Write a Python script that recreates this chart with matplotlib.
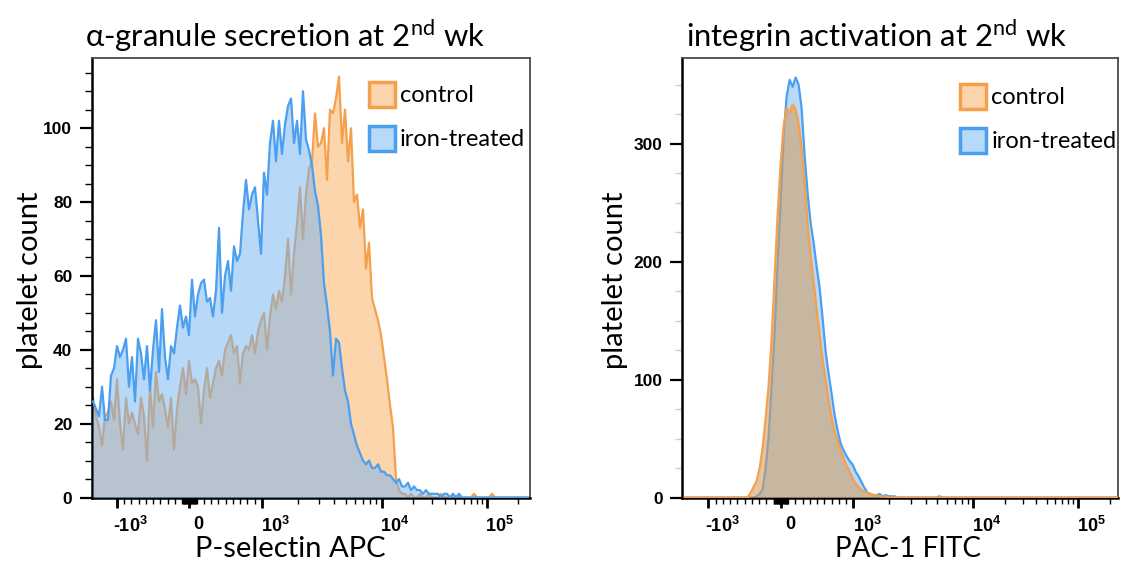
import numpy as np
import matplotlib
matplotlib.use("Agg")
import matplotlib.pyplot as plt
from matplotlib.patches import Patch
from matplotlib.transforms import ScaledTranslation

# ---------------- data (histogram counts per display channel) ----------------
N_BINS = 146
left_control = [
    27, 22, 19, 14, 22, 23, 26, 21, 32, 20,
    13, 27, 20, 23, 20, 17, 27, 22, 10, 30,
    19, 34, 26, 28, 24, 19, 27, 13, 24, 30,
    35, 28, 37, 31, 32, 30, 20, 29, 35, 27,
    31, 35, 37, 33, 40, 42, 44, 39, 41, 31,
    39, 41, 40, 44, 39, 45, 48, 50, 40, 49,
    55, 51, 56, 53, 60, 70, 55, 66, 74, 84,
    70, 82, 89, 91, 104, 95, 96, 100, 86, 105,
    104, 108, 114, 96, 105, 91, 100, 80, 82, 73,
    78, 62, 69, 54, 51, 48, 44, 38, 32, 25,
    19, 5, 2, 1, 1, 0, 1, 0, 0, 1,
    0, 0, 1, 0, 0, 0, 1, 0, 0, 0,
    0, 0, 0, 0, 0, 0, 0, 1, 0, 0,
    0, 0, 0, 1, 0, 0, 0, 0, 0, 0,
    0, 0, 0, 0, 0, 0]
left_iron = [
    26, 24, 22, 30, 21, 21, 33, 35, 41, 38,
    40, 43, 30, 38, 26, 43, 39, 32, 41, 29,
    40, 48, 34, 51, 38, 32, 41, 39, 46, 52,
    46, 49, 44, 59, 49, 55, 58, 59, 53, 54,
    49, 56, 73, 50, 60, 64, 56, 68, 64, 66,
    77, 86, 78, 82, 84, 75, 66, 88, 82, 96,
    102, 91, 102, 93, 101, 106, 108, 96, 102, 93,
    110, 97, 94, 90, 83, 79, 71, 58, 52, 45,
    33, 43, 42, 35, 29, 26, 20, 17, 14, 12,
    10, 9, 10, 8, 8, 9, 7, 7, 6, 6,
    5, 4, 5, 3, 3, 4, 2, 3, 2, 2,
    1, 2, 1, 1, 1, 1, 0, 1, 1, 0,
    1, 0, 1, 0, 0, 0, 0, 0, 0, 0,
    0, 0, 0, 0, 0, 0, 0, 0, 0, 0,
    0, 0, 0, 0, 0, 0]
right_control = [
    0, 0, 0, 0, 0, 0, 0, 0, 0, 0,
    0, 0, 0, 0, 0, 0, 0, 0, 0, 0,
    0, 0, 4, 9, 14, 25, 42, 67, 95, 135,
    187, 240, 282, 315, 330, 326, 333, 329, 317, 296,
    266, 232, 205, 183, 160, 138, 117, 100, 83, 68,
    56, 48, 40, 33, 27, 22, 16, 12, 9, 6,
    5, 4, 3, 2, 2, 1, 1, 1, 0, 0,
    0, 0, 0, 0, 0, 0, 0, 0, 0, 0,
    0, 0, 0, 0, 0, 0, 0, 0, 0, 0,
    0, 0, 0, 0, 0, 0, 0, 0, 0, 0,
    0, 0, 0, 0, 0, 0, 0, 0, 0, 0,
    0, 0, 0, 0, 0, 0, 0, 0, 0, 0,
    0, 0, 0, 0, 0, 0, 0, 0, 0, 0,
    0, 0, 0, 0, 0, 0, 0, 0, 0, 0,
    0, 0, 0, 0, 0, 0]
right_iron = [
    0, 0, 0, 0, 0, 0, 0, 0, 0, 0,
    0, 0, 0, 0, 0, 0, 0, 0, 0, 0,
    0, 0, 0, 0, 1, 3, 7, 25, 52, 95,
    140, 199, 250, 305, 340, 354, 348, 356, 350, 330,
    290, 258, 233, 216, 196, 178, 152, 124, 105, 88,
    70, 57, 46, 40, 35, 31, 28, 22, 18, 13,
    8, 4, 3, 2, 2, 3, 1, 2, 1, 1,
    1, 0, 0, 0, 0, 0, 0, 0, 0, 0,
    0, 0, 0, 0, 0, 1, 0, 0, 0, 0,
    0, 0, 0, 0, 0, 0, 0, 0, 0, 0,
    0, 0, 0, 0, 0, 0, 0, 0, 0, 0,
    0, 0, 0, 0, 0, 0, 0, 0, 0, 0,
    0, 0, 0, 0, 0, 0, 0, 0, 0, 0,
    0, 0, 0, 0, 0, 0, 0, 0, 0, 0,
    0, 0, 0, 0, 0, 0]

titles = ["α-granule secretion at 2$^{\\mathregular{nd}}$ wk",
          "integrin activation at 2$^{\\mathregular{nd}}$ wk"]
xlabels = ["P-selectin APC", "PAC-1 FITC"]
ylabel = "platelet count"
legend_labels = ["control", "iron-treated"]
x_major = [-1000, 0, 1000, 10000, 100000]
x_major_labels = ["-$\\mathregular{10^{3}}$", "0", "$\\mathregular{10^{3}}$",
                  "$\\mathregular{10^{4}}$", "$\\mathregular{10^{5}}$"]
left_yticks = [0, 20, 40, 60, 80, 100]
right_yticks = [0, 100, 200, 300]

# ---------------- biexponential-like display scale ----------------
G_ANCH = np.array([-6.0, -1.0, 0.0, 1.0, 2.0, 3.0, 7.0])
D_ANCH = np.array([-435.0, -72.5, 0.0, 72.5, 192.5, 297.5, 717.5])


def _g(x):
    x = np.asarray(x, dtype=float)
    return np.where(x <= 1000, x / 1000.0,
                    1.0 + np.log10(np.maximum(x, 1000.0) / 1000.0))


def fwd(x):
    return np.interp(_g(x), G_ANCH, D_ANCH)


def inv(d):
    gg = np.interp(np.asarray(d, dtype=float), D_ANCH, G_ANCH)
    return np.where(gg <= 1, 1000.0 * gg, 1000.0 * 10 ** (np.maximum(gg, 1.0) - 1.0))


D_LO, BIN_W = -97.8, 3.0
bin_centers = inv(D_LO + BIN_W * (np.arange(N_BINS) + 0.5))

x_minor = (list(range(-900, 0, 100)) + list(range(-90, 0, 10)) + list(range(10, 100, 10))
           + list(range(100, 1000, 100)) + list(range(2000, 10000, 1000))
           + list(range(20000, 100000, 10000)) + [200000])

# ---------------- styling ----------------
OR_LINE = "#F4A04C"
OR_FILL = "#FDD5AC"
BL_LINE = "#4A9FF0"
BL_FILL = "#B9D9F8"
BL_TINT = "#73B3F1"
TAN = "#D29F65"
TXT = ["Lato", "DejaVu Sans"]
TICKF = ["Liberation Sans", "DejaVu Sans"]

plt.rcParams["font.family"] = TICKF

fig = plt.figure(figsize=(11.23, 5.72), dpi=100)
axL = fig.add_axes([91.5 / 1123, 1 - 497.5 / 572, 438.5 / 1123, 439.5 / 572])
axR = fig.add_axes([682 / 1123, 1 - 497.5 / 572, 436 / 1123, 439.5 / 572])


def style_axis(ax, ymax, yticks, yminor, minor_color, xlim_d):
    ax.set_xscale("function", functions=(fwd, inv))
    ax.set_xlim(float(inv(xlim_d[0])), float(inv(xlim_d[1])))
    ax.set_ylim(0, ymax)
    ax.set_xticks(x_major)
    ax.set_xticklabels(x_major_labels, fontsize=13, fontweight="bold")
    ax.set_xticks(x_minor, minor=True)
    ax.set_yticks(yticks)
    ax.set_yticklabels([str(v) for v in yticks], fontsize=12.5, fontweight="bold")
    ax.set_yticks(yminor, minor=True)
    ax.tick_params(axis="y", which="major", length=8.8, width=1.6, pad=5.0,
                   direction="out")
    ax.tick_params(axis="y", which="minor", length=5, width=1.0, color=minor_color)
    ax.tick_params(axis="x", which="major", length=7.5, width=2.0, pad=5.5,
                   direction="out")
    ax.tick_params(axis="x", which="minor", length=4.3, width=1.0)
    offs = [14, 9, 14, 13, 13]
    for lab, dx in zip(ax.get_xticklabels(), offs):
        lab.set_transform(lab.get_transform() + ScaledTranslation(dx / 100, 0, fig.dpi_scale_trans))
    for side in ("left", "bottom"):
        ax.spines[side].set_linewidth(1.8)
        ax.spines[side].set_color("black")
    for side in ("top", "right"):
        ax.spines[side].set_linewidth(1.3)
        ax.spines[side].set_color("#4a4a4a")


# left panel: iron-treated (translucent) drawn over control
axL.fill_between(bin_centers, 0, left_control, color=OR_FILL, lw=0, zorder=1)
axL.plot(bin_centers, left_control, color=OR_LINE, lw=1.6, zorder=2)
axL.fill_between(bin_centers, 0, left_iron, color=BL_TINT, alpha=0.5, lw=0, zorder=3)
axL.plot(bin_centers, left_iron, color=BL_LINE, lw=1.6, zorder=4)
style_axis(axL, 119, left_yticks, list(range(5, 120, 5)), "black", (-97.8, 340.7))

# right panel: control (translucent) drawn over iron-treated
axR.fill_between(bin_centers, 0, right_iron, color=BL_FILL, lw=0, zorder=1)
axR.plot(bin_centers, right_iron, color=BL_LINE, lw=1.6, zorder=2)
axR.fill_between(bin_centers, 0, right_control, color=TAN, alpha=0.6, lw=0, zorder=3)
axR.plot(bin_centers, right_control, color=OR_LINE, lw=1.6, zorder=4)
style_axis(axR, 372.5, right_yticks, list(range(25, 375, 25)), "#cfcfcf", (-99.0, 337.3))

for ax, title, xl, xfs, tx, xlx, ylx, leg_xy in (
        (axL, titles[0], xlabels[0], 21, 0.441, 0.453, -0.140, (0.632, 0.946)),
        (axR, titles[1], xlabels[1], 20, 0.447, 0.518, -0.154, (0.637, 0.941))):
    ax.text(tx, 1.025, title, transform=ax.transAxes, ha="center", va="baseline",
            fontsize=22.3, family=TXT)
    ax.set_xlabel(xl, fontsize=xfs, family=TXT)
    ax.xaxis.label.set_va("baseline")
    ax.xaxis.set_label_coords(xlx, -0.1355)
    ax.set_ylabel(ylabel, fontsize=21, family=TXT)
    ax.yaxis.label.set_va("center")
    ax.yaxis.set_label_coords(ylx, 0.494)
    handles = [Patch(facecolor=OR_FILL, edgecolor=OR_LINE, linewidth=2.5),
               Patch(facecolor=BL_FILL, edgecolor=BL_LINE, linewidth=2.5)]
    ax.legend(handles, legend_labels, loc="upper left", bbox_to_anchor=leg_xy,
              frameon=False, prop={"family": TXT, "size": 17},
              handlelength=1.11, handleheight=1.25, handletextpad=0.22,
              labelspacing=0.8, borderpad=0, borderaxespad=0)

fig.savefig("out.png", dpi=100)
